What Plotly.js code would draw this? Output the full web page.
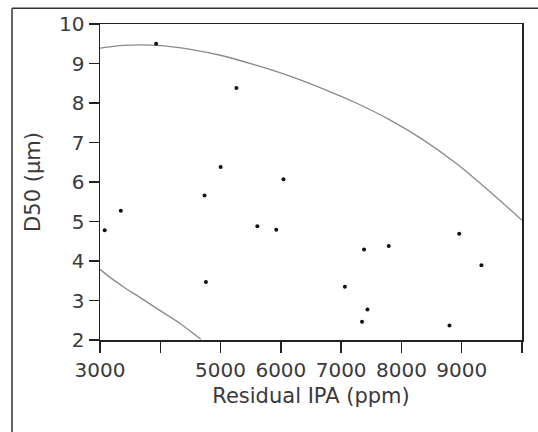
<!DOCTYPE html>
<html><head><meta charset="utf-8">
<script src="https://cdn.plot.ly/plotly-3.0.1.min.js"></script>
<style>html,body{margin:0;padding:0;background:#fff}#chart{width:538px;height:432px}</style>
</head><body><div id="chart"></div>
<script>
const ipa = [3078, 3345, 3931, 4734, 4757, 5001, 5263, 5610, 5924, 6043, 7062, 7380, 7346, 7437, 7790, 8797, 8958, 9327];
const d50 = [4.78, 5.27, 9.50, 5.66, 3.47, 6.38, 8.38, 4.88, 4.79, 6.07, 3.35, 4.29, 2.46, 2.77, 4.38, 2.37, 4.69, 3.89];

const upperX = [3000, 3400, 3950, 4500, 5050, 5600, 6150, 6700, 7250, 7800, 8350, 8900, 9450, 10000];
const upperY = [9.39, 9.46, 9.46, 9.36, 9.19, 8.95, 8.68, 8.36, 8.00, 7.58, 7.08, 6.48, 5.78, 5.03];
const lowerX = [3000, 3190, 3387, 3660, 3940, 4327, 4672];
const lowerY = [3.79, 3.56, 3.35, 3.08, 2.80, 2.42, 2.02];

const xTicks = [3000, 4000, 5000, 6000, 7000, 8000, 9000, 10000];
const xTickText = ['3000', '', '5000', '6000', '7000', '8000', '9000', ''];
const yTicks = [2, 3, 4, 5, 6, 7, 8, 9, 10];

const curveStyle = {color: '#8a8a8a', width: 1.3, shape: 'spline', smoothing: 1};
const data = [
  {x: upperX, y: upperY, mode: 'lines', line: curveStyle, hoverinfo: 'skip'},
  {x: lowerX, y: lowerY, mode: 'lines', line: curveStyle, hoverinfo: 'skip'},
  {x: ipa, y: d50, mode: 'markers', marker: {color: '#111', size: 4}}
];
const fam = 'DejaVu Sans, Verdana, sans-serif';
const txt = '#3a3a3a';
const layout = {
  width: 538, height: 432,
  margin: {l: 100, r: 16, t: 24, b: 92},
  paper_bgcolor: '#fff', plot_bgcolor: '#fff',
  showlegend: false,
  font: {family: fam, color: txt},
  xaxis: {
    range: [3000, 10000], tickvals: xTicks, ticktext: xTickText,
    ticks: 'outside', ticklen: 11, tickcolor: '#222', tickwidth: 1.3,
    showline: true, linecolor: '#222', linewidth: 1.5, mirror: true,
    showgrid: false, zeroline: false,
    tickfont: {size: 20, family: fam, color: txt},
    title: {text: 'Residual IPA (ppm)', font: {size: 21, family: fam, color: txt}, standoff: 8}
  },
  yaxis: {
    range: [2, 10], tickvals: yTicks,
    ticks: 'outside', ticklen: 10, tickcolor: '#222', tickwidth: 1.3,
    showline: true, linecolor: '#222', linewidth: 1.5, mirror: true,
    showgrid: false, zeroline: false,
    tickfont: {size: 20, family: fam, color: txt},
    title: {text: 'D50 (µm)', font: {size: 21, family: fam, color: txt}, standoff: 12}
  },
  shapes: [
    {type: 'line', xref: 'paper', yref: 'paper', x0: -0.2085, x1: 1.04, y0: 1.05, y1: 1.05, line: {color: '#333', width: 1.5}},
    {type: 'line', xref: 'paper', yref: 'paper', x0: -0.2085, x1: -0.2085, y0: 1.05, y1: -0.3, line: {color: '#333', width: 1.5}}
  ]
};
Plotly.newPlot('chart', data, layout, {displayModeBar: false, staticPlot: true});
</script></body></html>
